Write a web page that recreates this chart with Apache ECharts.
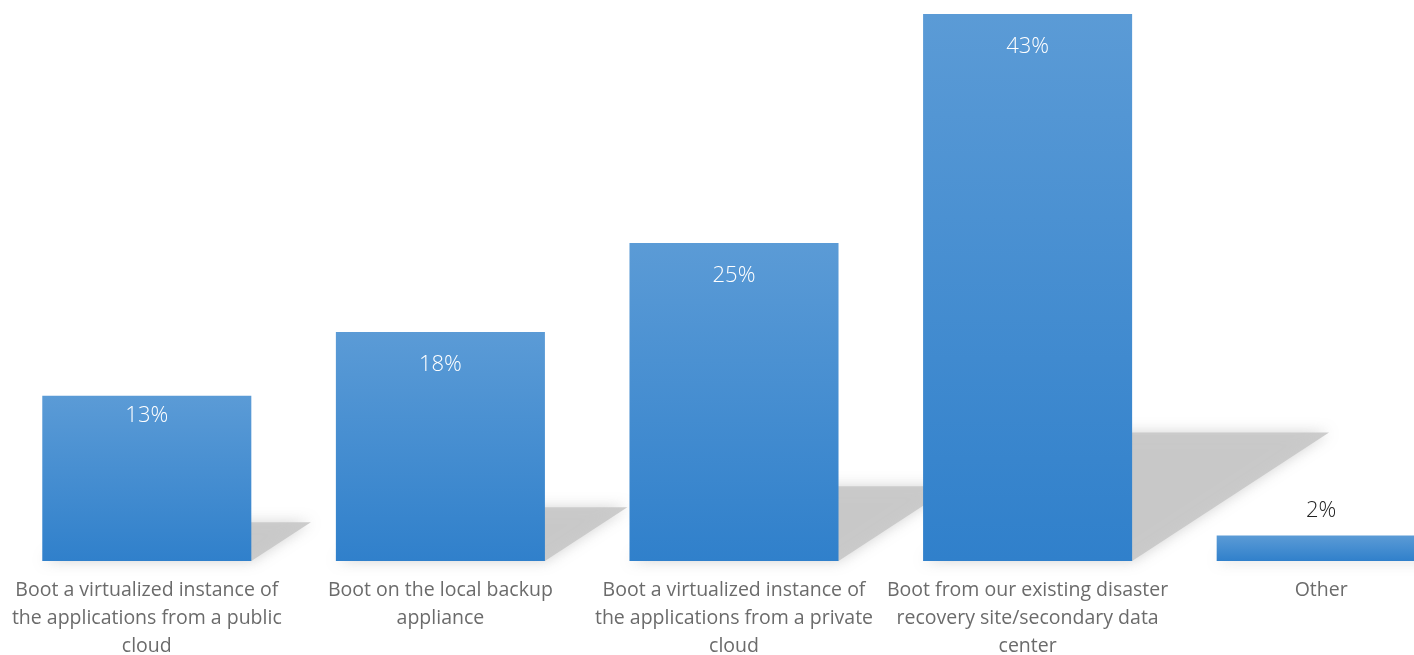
<!DOCTYPE html>
<html>
<head>
<meta charset="utf-8">
<script src="https://cdn.jsdelivr.net/npm/echarts@6/dist/echarts.min.js"></script>
<style>
html,body{margin:0;padding:0;background:#fff;}
#chart{width:1414px;height:655px;}
</style>
</head>
<body>
<div id="chart"></div>
<script>
var categories = [
  'Boot a virtualized instance of\nthe applications from a public\ncloud',
  'Boot on the local backup\nappliance',
  'Boot a virtualized instance of\nthe applications from a private\ncloud',
  'Boot from our existing disaster\nrecovery site/secondary data\ncenter',
  'Other'
];
var values = [13, 18, 25, 43, 2];

var chart = echarts.init(document.getElementById('chart'));

var barGradient = new echarts.graphic.LinearGradient(0, 0, 0, 1, [
  {offset: 0, color: '#5b9bd6'},
  {offset: 1, color: '#3080cb'}
]);

var barData = values.map(function (v) {
  if (v < 5) {
    return {value: v, label: {position: 'top', color: '#222', distance: 14}};
  }
  if (v < 15) {
    return {value: v, label: {distance: 9}};
  }
  return v;
});

var option = {
  animation: false,
  grid: {left: 0, width: 1468, top: 14, bottom: 94, containLabel: false, outerBoundsMode: 'none'},
  xAxis: {
    type: 'category',
    data: categories,
    axisLine: {show: false},
    axisTick: {show: false},
    axisLabel: {
      interval: 0,
      margin: 15,
      color: '#6b6b6b',
      fontSize: 19.5,
      lineHeight: 28,
      fontFamily: '"Open Sans", sans-serif',
      align: 'center'
    }
  },
  yAxis: {
    type: 'value',
    min: 0,
    max: 43,
    show: false,
    splitLine: {show: false}
  },
  series: [
    {
      type: 'custom',
      z: 1,
      silent: true,
      data: values.map(function (v, i) { return [i, v]; }),
      renderItem: function (params, api) {
        var idx = api.value(0);
        var v = api.value(1);
        var base = api.coord([idx, 0]);
        var top = api.coord([idx, v]);
        var bw = api.size([1, 0])[0] * 0.712;
        var h = base[1] - top[1];
        var left = base[0] - bw / 2;
        var right = base[0] + bw / 2;
        var dx = 0.36 * h, dy = 0.235 * h;
        return {
          type: 'polygon',
          shape: {points: [
            [left, base[1]], [right, base[1]],
            [right + dx, base[1] - dy], [left + dx, base[1] - dy]
          ]},
          style: {
            fill: 'rgba(200,200,200,0.9)',
            shadowBlur: 14,
            shadowColor: 'rgba(200,200,200,0.9)'
          }
        };
      }
    },
    {
      type: 'bar',
      z: 2,
      data: barData,
      barWidth: '71.2%',
      itemStyle: {color: barGradient},
      label: {
        show: true,
        position: 'insideTop',
        distance: 22,
        color: '#ffffff',
        fontSize: 22,
        fontFamily: '"Open Sans", sans-serif',
        fontWeight: 300,
        formatter: '{c}%'
      }
    }
  ]
};
chart.setOption(option);
</script>
</body>
</html>
